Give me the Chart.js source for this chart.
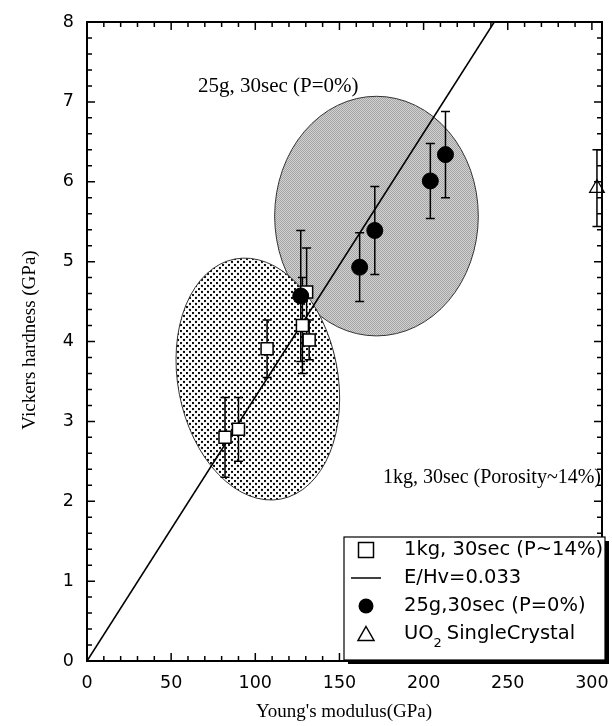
<!DOCTYPE html>
<html>
<head>
<meta charset="utf-8">
<script src="https://cdn.jsdelivr.net/npm/chart.js@4"></script>
<style>
  body { margin: 0; background: #fff; }
  #wrap { width: 612px; height: 726px; }
</style>
</head>
<body>
<div id="wrap"><canvas id="chart" width="612" height="726"></canvas></div>
<script>
// ---- data ----
const sqE   = [82, 90, 107, 128, 132, 130.5];        // 1kg, 30sec
const sqHv  = [2.80, 2.90, 3.91, 4.20, 4.02, 4.62];
const sqErr = [0.50, 0.40, 0.36, 0.60, 0.25, 0.55];

const ciE   = [127, 162, 171, 204, 213];             // 25g, 30sec
const ciHv  = [4.57, 4.93, 5.39, 6.01, 6.34];
const ciErr = [0.82, 0.43, 0.55, 0.47, 0.54];

const triE   = [303];                                 // UO2 single crystal
const triHv  = [5.92];
const triErr = [0.48];

const lineE  = [0, 242];                              // E/Hv = 0.033
const lineHv = [0, 8];

// shaded regions: [centerE, centerHv, halfWidthE, halfHeightHv]
const regionP0  = [172, 5.57, 60.5, 1.50];
const regionP14 = [101.5, 3.53, 47.5, 1.53];

const xTicks = [0, 50, 100, 150, 200, 250, 300];
const yTicks = [0, 1, 2, 3, 4, 5, 6, 7, 8];

const legendLabels = ["1kg, 30sec (P~14%)", "E/Hv=0.033", "25g,30sec (P=0%)", "UO"];

function pts(xs, ys) {
    return xs.map((x, i) => ({ x: x, y: ys[i] }));
}

// ---- fill patterns ----
function dotPattern() {
    let c = document.createElement("canvas");
    c.width = 6; c.height = 6;
    let g = c.getContext("2d");
    g.fillStyle = "#fff";
    g.fillRect(0, 0, 6, 6);
    g.fillStyle = "#000";
    g.beginPath(); g.arc(1, 1, 1.15, 0, Math.PI * 2); g.fill();
    g.beginPath(); g.arc(4, 4, 1.15, 0, Math.PI * 2); g.fill();
    return c;
}
function grayPattern() {
    let c = document.createElement("canvas");
    c.width = 2; c.height = 2;
    let g = c.getContext("2d");
    g.fillStyle = "#d2d2d2";
    g.fillRect(0, 0, 2, 2);
    g.fillStyle = "#a4a4a4";
    g.fillRect(0, 0, 1, 1);
    g.fillRect(1, 1, 1, 1);
    return c;
}

function drawRegion(ctx, xs, ys, r, fill, tilt) {
    let cx = xs.getPixelForValue(r[0]);
    let cy = ys.getPixelForValue(r[1]);
    let rx = xs.getPixelForValue(r[0] + r[2]) - cx;
    let ry = cy - ys.getPixelForValue(r[1] + r[3]);
    ctx.beginPath();
    ctx.ellipse(cx, cy, rx, ry, tilt, 0, Math.PI * 2);
    ctx.fillStyle = ctx.createPattern(fill, "repeat");
    ctx.fill();
    ctx.strokeStyle = "#333";
    ctx.lineWidth = 1;
    ctx.stroke();
}

function drawErrors(ctx, xs, ys, ex, ey, err) {
    ctx.strokeStyle = "#000";
    ctx.lineWidth = 1.5;
    for (let i = 0; i < ex.length; i++) {
        let px = xs.getPixelForValue(ex[i]);
        let top = ys.getPixelForValue(ey[i] + err[i]);
        let bot = ys.getPixelForValue(ey[i] - err[i]);
        ctx.beginPath();
        ctx.moveTo(px, top); ctx.lineTo(px, bot);
        ctx.moveTo(px - 4.5, top); ctx.lineTo(px + 4.5, top);
        ctx.moveTo(px - 4.5, bot); ctx.lineTo(px + 4.5, bot);
        ctx.stroke();
    }
}

// ellipses + error bars under the markers
const underlay = {
    id: "underlay",
    beforeDatasetsDraw(chart) {
        let ctx = chart.ctx, xs = chart.scales.x, ys = chart.scales.y, a = chart.chartArea;
        ctx.save();
        ctx.beginPath();
        ctx.rect(a.left, a.top, a.right - a.left, a.bottom - a.top);
        ctx.clip();
        drawRegion(ctx, xs, ys, regionP0, grayPattern(), 0);
        drawRegion(ctx, xs, ys, regionP14, dotPattern(), -0.19);
        drawErrors(ctx, xs, ys, sqE, sqHv, sqErr);
        drawErrors(ctx, xs, ys, ciE, ciHv, ciErr);
        drawErrors(ctx, xs, ys, triE, triHv, triErr);
        ctx.restore();
    }
};

// frame, inward ticks, texts, legend
const overlay = {
    id: "overlay",
    afterDraw(chart) {
        let ctx = chart.ctx, xs = chart.scales.x, ys = chart.scales.y, a = chart.chartArea;
        ctx.save();
        ctx.strokeStyle = "#000";
        ctx.lineWidth = 2;
        ctx.strokeRect(a.left, a.top, a.right - a.left, a.bottom - a.top);

        ctx.lineWidth = 1.5;
        ctx.beginPath();
        for (let v = 0; v <= 300; v += 10) {
            let px = xs.getPixelForValue(v);
            let len = (v % 50 === 0) ? 8 : 5;
            ctx.moveTo(px, a.bottom); ctx.lineTo(px, a.bottom - len);
            ctx.moveTo(px, a.top); ctx.lineTo(px, a.top + len);
        }
        for (let k = 0; k <= 40; k++) {
            let py = ys.getPixelForValue(k * 0.2);
            let len = (k % 5 === 0) ? 8 : 5;
            ctx.moveTo(a.left, py); ctx.lineTo(a.left + len, py);
            ctx.moveTo(a.right, py); ctx.lineTo(a.right - len, py);
        }
        ctx.stroke();

        // annotations
        ctx.fillStyle = "#000";
        ctx.textBaseline = "middle";
        ctx.textAlign = "left";
        ctx.font = "21px 'Liberation Serif', serif";
        ctx.fillText("25g, 30sec (P=0%)", 198, 86);
        ctx.font = "20px 'Liberation Serif', serif";
        ctx.fillText("1kg, 30sec (Porosity~14%)", 383, 478);

        // axis titles
        ctx.font = "19px 'Liberation Serif', serif";
        ctx.textAlign = "center";
        ctx.fillText("Young's modulus(GPa)", 344, 712);
        ctx.save();
        ctx.translate(30, 340);
        ctx.rotate(-Math.PI / 2);
        ctx.fillText("Vickers hardness (GPa)", 0, 0);
        ctx.restore();

        // legend box with shadow
        let L = 344, T = 537, R = 605, B = 660;
        ctx.fillStyle = "#000";
        ctx.fillRect(L + 4, T + 4, R - L, B - T);
        ctx.fillStyle = "#fff";
        ctx.fillRect(L, T, R - L, B - T);
        ctx.lineWidth = 1.2;
        ctx.strokeStyle = "#000";
        ctx.strokeRect(L, T, R - L, B - T);

        let rows = [550, 578, 606, 634];
        let sx = 366;
        ctx.lineWidth = 1.5;
        ctx.strokeRect(sx - 7.5, rows[0] - 7.5, 15, 15);
        ctx.beginPath();
        ctx.moveTo(sx - 15, rows[1]); ctx.lineTo(sx + 15, rows[1]);
        ctx.stroke();
        ctx.beginPath();
        ctx.arc(sx, rows[2], 7.5, 0, Math.PI * 2);
        ctx.fillStyle = "#000";
        ctx.fill();
        ctx.beginPath();
        ctx.moveTo(sx, rows[3] - 7.5); ctx.lineTo(sx + 8, rows[3] + 6.5); ctx.lineTo(sx - 8, rows[3] + 6.5);
        ctx.closePath();
        ctx.stroke();

        ctx.font = "19.5px 'DejaVu Sans', sans-serif";
        ctx.textAlign = "left";
        for (let i = 0; i < legendLabels.length; i++) {
            ctx.fillText(legendLabels[i], 404, rows[i]);
        }
        let w = ctx.measureText("UO").width;
        ctx.font = "13px 'DejaVu Sans', sans-serif";
        ctx.fillText("2", 404 + w, rows[3] + 10);
        ctx.font = "19.5px 'DejaVu Sans', sans-serif";
        ctx.fillText(" SingleCrystal", 404 + w + 7, rows[3]);
        ctx.restore();
    }
};

const ctx = document.getElementById("chart").getContext("2d");

new Chart(ctx, {
    type: "scatter",
    data: {
        datasets: [
            {
                label: "E/Hv=0.033",
                type: "line",
                data: pts(lineE, lineHv),
                borderColor: "#000",
                borderWidth: 1.5,
                pointRadius: 0,
                fill: false,
                order: 4
            },
            {
                label: "1kg, 30sec (P~14%)",
                data: pts(sqE, sqHv),
                pointStyle: "rect",
                pointRadius: 8.5,
                backgroundColor: "#fff",
                borderColor: "#000",
                borderWidth: 1.5,
                order: 3
            },
            {
                label: "25g,30sec (P=0%)",
                data: pts(ciE, ciHv),
                pointStyle: "circle",
                pointRadius: 8,
                backgroundColor: "#000",
                borderColor: "#000",
                order: 2
            },
            {
                label: "UO2 SingleCrystal",
                data: pts(triE, triHv),
                pointStyle: "triangle",
                pointRadius: 8.5,
                backgroundColor: "rgba(255,255,255,0)",
                borderColor: "#000",
                borderWidth: 1.2,
                order: 1
            }
        ]
    },
    options: {
        responsive: false,
        animation: false,
        clip: false,
        layout: { padding: { top: 22, right: 5, left: 0, bottom: 0 } },
        plugins: {
            legend: { display: false },
            tooltip: { enabled: false }
        },
        scales: {
            x: {
                type: "linear",
                min: 0,
                max: 306,
                grid: { display: false, drawTicks: false },
                border: { display: false },
                afterBuildTicks: function (s) { s.ticks = xTicks.map(v => ({ value: v })); },
                afterFit: function (s) { s.height = 65; s.paddingLeft = 0; s.paddingRight = 0; },
                ticks: {
                    padding: 12,
                    color: "#000",
                    font: { family: "'DejaVu Sans', sans-serif", size: 17.5 }
                }
            },
            y: {
                type: "linear",
                min: 0,
                max: 8,
                grid: { display: false, drawTicks: false },
                border: { display: false },
                afterBuildTicks: function (s) { s.ticks = yTicks.map(v => ({ value: v })); },
                afterFit: function (s) { s.width = 87; s.paddingTop = 0; s.paddingBottom = 0; },
                ticks: {
                    padding: 13,
                    color: "#000",
                    font: { family: "'DejaVu Sans', sans-serif", size: 17.5 }
                }
            }
        }
    },
    plugins: [underlay, overlay]
});
</script>
</body>
</html>
